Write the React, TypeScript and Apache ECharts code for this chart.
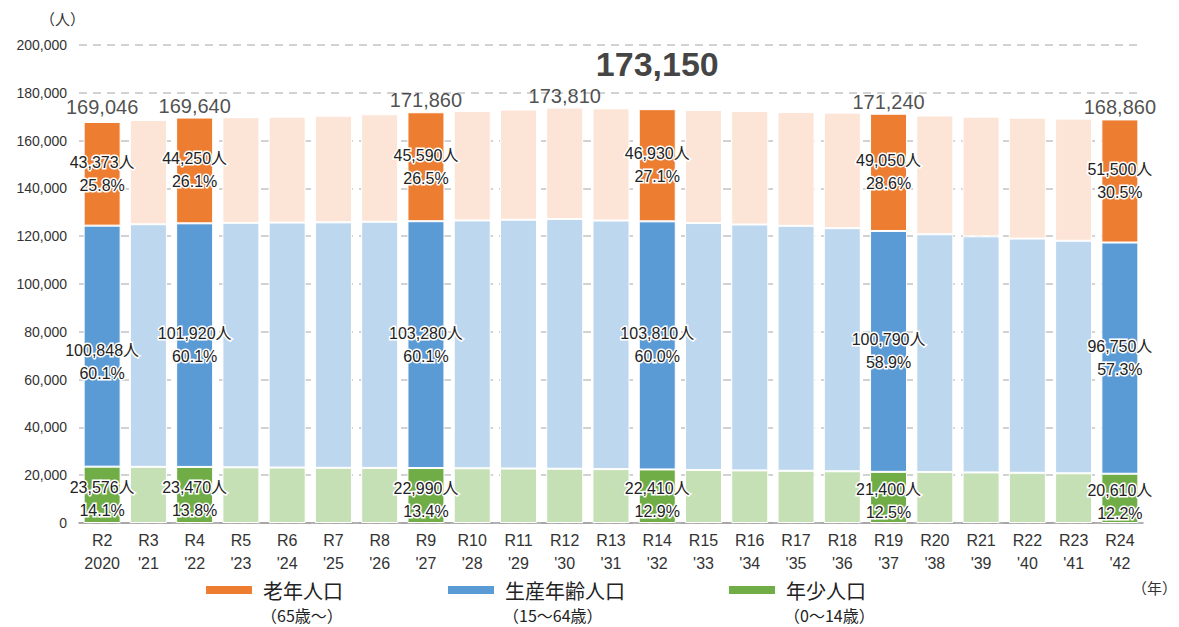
import React, { useEffect, useRef } from "react";
import * as echarts from "echarts";

const eras = ["R2","R3","R4","R5","R6","R7","R8","R9","R10","R11","R12","R13","R14","R15","R16","R17","R18","R19","R20","R21","R22","R23","R24"];
const years = ["2020","'21","'22","'23","'24","'25","'26","'27","'28","'29","'30","'31","'32","'33","'34","'35","'36","'37","'38","'39","'40","'41","'42"];

const youngValues = [23576,23500,23470,23300,23200,23100,23050,22990,22900,22800,22700,22550,22410,22200,22000,21850,21650,21400,21300,21150,21000,20800,20610];
const workingValues = [100848,101500,101920,102300,102500,102700,103000,103280,103700,104100,104500,104000,103810,103300,102900,102500,101700,100790,99500,98800,98000,97300,96750];
const elderlyValues = [43373,43600,44250,44200,44300,44600,44950,45590,45800,46100,46610,46950,46930,47300,47500,47650,48350,49050,49700,50050,50600,51100,51500];

// highlighted (labelled) years
const highlightIdx = [0, 2, 7, 12, 17, 22];
const youngPct = ["14.1", "13.8", "13.4", "12.9", "12.5", "12.2"];
const workingPct = ["60.1", "60.1", "60.1", "60.0", "58.9", "57.3"];
const elderlyPct = ["25.8", "26.1", "26.5", "27.1", "28.6", "30.5"];

// total labels above bars
const totalIdx = [0, 2, 7, 10, 12, 17, 22];
const totalValues = [169046, 169640, 171860, 173810, 173150, 171240, 168860];
const bigTotalIdx = 12;

const yTicks = [0, 20000, 40000, 60000, 80000, 100000, 120000, 140000, 160000, 180000, 200000];

const FONT = "'Liberation Sans', 'Noto Sans CJK JP', sans-serif";
const JFONT = "'Noto Sans CJK JP', sans-serif";

const fmt = (v: number) => v.toLocaleString("en-US");

function buildSeriesData(values: number[], pcts: string[], dark: string, light: string, offsets?: (i: number) => number[]) {
  return values.map((v, i) => {
    const h = highlightIdx.indexOf(i);
    if (h >= 0) {
      return {
        value: v,
        itemStyle: { color: dark },
        label: {
          show: true,
          position: "inside",
          offset: offsets ? offsets(i) : [0, 0],
          formatter: `${fmt(v)}人\n${pcts[h]}%`,
        },
      };
    }
    return { value: v, itemStyle: { color: light } };
  });
}

export default function App() {
  const ref = useRef<HTMLDivElement>(null);
  useEffect(() => {
    if (!ref.current) return;
    const chart = echarts.init(ref.current, undefined, { renderer: "svg" });
    const labelStyle = {
      color: "#222",
      fontSize: 16,
      fontFamily: FONT,
      lineHeight: 23,
      textBorderColor: "#fff",
      textBorderWidth: 3,
    };
    const barCommon = {
      type: "bar",
      stack: "pop",
      barCategoryGap: "20%",
      itemStyle: { borderColor: "#fff", borderWidth: 1 },
      label: { show: false, ...labelStyle },
    };
    const totalData = eras.map((_, i) => {
      const t = totalIdx.indexOf(i);
      if (t < 0) return "-";
      const big = i === bigTotalIdx;
      return {
        value: totalValues[t],
        label: big
          ? { show: true, position: "top", distance: 28, fontSize: 34, fontWeight: "bold", color: "#111", fontFamily: FONT, formatter: fmt(totalValues[t]) }
          : { show: true, position: "top", distance: 2, fontSize: 20, color: "#222", fontFamily: FONT, formatter: fmt(totalValues[t]) },
      };
    });
    const legendItems = [
      { x: 206, w: 46, color: "#ED7D31", name: "老年人口", sub: "（65歳～）" },
      { x: 448, w: 46, color: "#5B9BD5", name: "生産年齢人口", sub: "（15～64歳）" },
      { x: 729, w: 46, color: "#70AD47", name: "年少人口", sub: "（0～14歳）" },
    ];
    const graphics: any[] = [];
    legendItems.forEach((l) => {
      graphics.push({ type: "rect", left: l.x, top: 586, shape: { width: l.w, height: 8 }, style: { fill: l.color } });
      graphics.push({ type: "text", left: l.x + l.w + 11, top: 579, style: { text: l.name, fontSize: 20, lineHeight: 22, fontFamily: JFONT, fill: "#222" } });
      graphics.push({ type: "text", left: l.x + l.w + 9, top: 606, style: { text: l.sub, fontSize: 16, lineHeight: 18, fontFamily: JFONT, fill: "#222" } });
    });
    graphics.push({ type: "text", left: 40, top: 11, style: { text: "（人）", fontSize: 15, fontFamily: JFONT, fill: "#333" } });
    graphics.push({ type: "text", left: 1132, top: 580, style: { text: "（年）", fontSize: 15, fontFamily: JFONT, fill: "#333" } });

    chart.setOption({
      animation: false,
      backgroundColor: "#fff",
      textStyle: { fontFamily: FONT },
      grid: { left: 79, right: 36, top: 45, bottom: 104, containLabel: false },
      xAxis: {
        type: "category",
        data: eras.map((e, i) => `${e}\n${years[i]}`),
        axisLine: { lineStyle: { color: "#999", width: 1.5 } },
        axisTick: { show: false },
        axisLabel: { color: "#333", fontSize: 16, lineHeight: 23, margin: 6, fontFamily: FONT, interval: 0 },
      },
      yAxis: {
        type: "value",
        min: 0,
        max: 200000,
        interval: 20000,
        axisLine: { show: false },
        axisTick: { show: false },
        splitLine: { lineStyle: { color: "#c4c4c4", type: [8, 6], width: 1.5 } },
        axisLabel: {
          color: "#333",
          fontSize: 14,
          margin: 12,
          fontFamily: FONT,
          formatter: (v: number) => (yTicks.includes(v) ? fmt(v) : ""),
        },
      },
      graphic: graphics,
      series: [
        { ...barCommon, name: "年少人口", data: buildSeriesData(youngValues, youngPct, "#70AD47", "#C5E0B4", () => [0, 4]), color: "#70AD47" },
        { ...barCommon, name: "生産年齢人口", data: buildSeriesData(workingValues, workingPct, "#5B9BD5", "#BDD7EE", (i) => (i === 0 ? [0, 16] : [0, 0])), color: "#5B9BD5" },
        { ...barCommon, name: "老年人口", data: buildSeriesData(elderlyValues, elderlyPct, "#ED7D31", "#FCE4D6"), color: "#ED7D31" },
        {
          type: "scatter",
          name: "total",
          symbolSize: 0,
          data: totalData,
          z: 5,
          label: { show: true },
          silent: true,
        },
      ],
    });
    return () => chart.dispose();
  }, []);
  return <div ref={ref} style={{ position: "fixed", left: 0, top: 0, width: 1179, height: 627 }} />;
}
